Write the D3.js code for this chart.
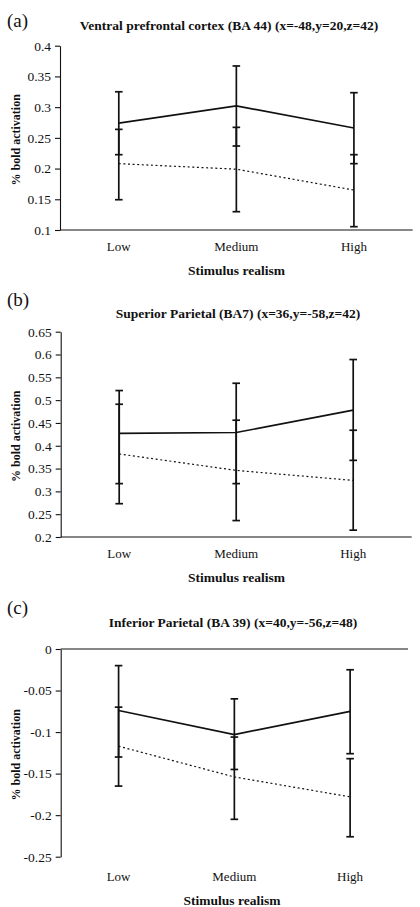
<!DOCTYPE html>
<html>
<head>
<meta charset="utf-8">
<script src="https://cdn.jsdelivr.net/npm/d3@7"></script>
<style>
  html, body { margin: 0; padding: 0; background: #fff; }
  svg { display: block; }
  text { font-family: "Liberation Serif", "Times New Roman", serif; fill: #111; }
</style>
</head>
<body>
<svg id="chart" width="420" height="907"></svg>
<script>
// ---------------- DATA ----------------
const categories = ["Low", "Medium", "High"];

const panelLetters = ["(a)", "(b)", "(c)"];
const panelTitles = [
  "Ventral prefrontal cortex (BA 44) (x=-48,y=20,z=42)",
  "Superior Parietal (BA7) (x=36,y=-58,z=42)",
  "Inferior Parietal (BA 39) (x=40,y=-56,z=48)"
];
const xAxisTitle = "Stimulus realism";
const yAxisTitle = "% bold activation";

// y tick values per panel
const yTicksA = [0.1, 0.15, 0.2, 0.25, 0.3, 0.35, 0.4];
const yTicksB = [0.2, 0.25, 0.3, 0.35, 0.4, 0.45, 0.5, 0.55, 0.6, 0.65];
const yTicksC = [-0.25, -0.2, -0.15, -0.1, -0.05, 0];

// Panel (a)
const solidMeanA = [0.274, 0.302, 0.266];
const solidHiA   = [0.325, 0.367, 0.3235];
const solidLoA   = [0.2226, 0.2367, 0.208];
const dotMeanA   = [0.208, 0.199, 0.165];
const dotHiA     = [0.2638, 0.2671, 0.2226];
const dotLoA     = [0.1493, 0.1298, 0.1054];

// Panel (b)
const solidMeanB = [0.427, 0.429, 0.478];
const solidHiB   = [0.521, 0.537, 0.589];
const solidLoB   = [0.317, 0.317, 0.368];
const dotMeanB   = [0.382, 0.346, 0.324];
const dotHiB     = [0.491, 0.456, 0.434];
const dotLoB     = [0.273, 0.236, 0.215];

// Panel (c)
const solidMeanC = [-0.074, -0.103, -0.075];
const solidHiC   = [-0.020, -0.060, -0.025];
const solidLoC   = [-0.130, -0.145, -0.126];
const dotMeanC   = [-0.117, -0.154, -0.178];
const dotHiC     = [-0.070, -0.106, -0.132];
const dotLoC     = [-0.165, -0.205, -0.226];

// ---------------- LAYOUT ----------------
const panels = [
  {
    letter: panelLetters[0], title: panelTitles[0], ticks: yTicksA,
    domain: [0.1, 0.4], yRange: [230, 45.7], xRange: [60, 412.7],
    xAxisAt: 0.1, letterY: 27, titleX: 229, titleY: 30,
    catY: 251, xTitleY: 275, xTitleX: 236.5,
    series: [
      { mean: solidMeanA, hi: solidHiA, lo: solidLoA, dotted: false },
      { mean: dotMeanA, hi: dotHiA, lo: dotLoA, dotted: true }
    ]
  },
  {
    letter: panelLetters[1], title: panelTitles[1], ticks: yTicksB,
    domain: [0.2, 0.65], yRange: [537, 331.7], xRange: [60.7, 411.7],
    xAxisAt: 0.2, letterY: 306, titleX: 238, titleY: 318,
    catY: 558, xTitleY: 582, xTitleX: 236.5,
    series: [
      { mean: solidMeanB, hi: solidHiB, lo: solidLoB, dotted: false },
      { mean: dotMeanB, hi: dotHiB, lo: dotLoB, dotted: true }
    ]
  },
  {
    letter: panelLetters[2], title: panelTitles[2], ticks: yTicksC,
    domain: [-0.25, 0], yRange: [856.7, 649], xRange: [60.7, 408],
    xAxisAt: 0, letterY: 614, titleX: 233, titleY: 627,
    catY: 881, xTitleY: 905, xTitleX: 232,
    series: [
      { mean: solidMeanC, hi: solidHiC, lo: solidLoC, dotted: false },
      { mean: dotMeanC, hi: dotHiC, lo: dotLoC, dotted: true }
    ]
  }
];

const svg = d3.select("#chart");
svg.append("rect").attr("width", 420).attr("height", 907).attr("fill", "#fff");

panels.forEach(p => {
  const g = svg.append("g");
  const y = d3.scaleLinear().domain(p.domain).range(p.yRange);
  const x = d3.scalePoint().domain(categories).range(p.xRange).padding(0.5);

  // panel letter
  g.append("text").attr("x", 7).attr("y", p.letterY)
    .attr("font-size", 19).text(p.letter);

  // title
  g.append("text").attr("x", p.titleX).attr("y", p.titleY)
    .attr("text-anchor", "middle").attr("font-weight", "bold")
    .attr("font-size", 13.5).text(p.title);

  // y axis
  const yAxis = d3.axisLeft(y).tickValues(p.ticks)
    .tickFormat(d => String(d)).tickSize(5).tickPadding(4).tickSizeOuter(0);
  const ya = g.append("g").attr("transform", `translate(${p.xRange[0]},0)`).call(yAxis);
  ya.select(".domain").attr("stroke", "#111").attr("stroke-width", 1.1);
  ya.selectAll(".tick line").attr("stroke", "#111").attr("stroke-width", 1.1);
  ya.selectAll(".tick text").attr("font-family", "Liberation Serif, serif")
    .attr("font-size", 13.5).attr("fill", "#111");

  // x axis line (category axis crossing at xAxisAt)
  g.append("line")
    .attr("x1", p.xRange[0]).attr("x2", p.xRange[1])
    .attr("y1", y(p.xAxisAt)).attr("y2", y(p.xAxisAt))
    .attr("stroke", "#111").attr("stroke-width", 1.1);

  // category labels (at bottom)
  g.selectAll(".cat").data(categories).enter().append("text")
    .attr("x", d => x(d)).attr("y", p.catY)
    .attr("text-anchor", "middle").attr("font-size", 13).text(d => d);

  // x axis title
  g.append("text").attr("x", p.xTitleX).attr("y", p.xTitleY)
    .attr("text-anchor", "middle").attr("font-weight", "bold")
    .attr("font-size", 13.5).text(xAxisTitle);

  // y axis title
  const yc = (p.yRange[0] + p.yRange[1]) / 2 + 2;
  g.append("text").attr("transform", `translate(19.5,${yc}) rotate(-90)`)
    .attr("text-anchor", "middle").attr("font-weight", "bold")
    .attr("font-size", 12).text(yAxisTitle);

  // error bars
  p.series.forEach(s => {
    const eb = g.append("g");
    categories.forEach((c, i) => {
      const cx = x(c);
      eb.append("line").attr("x1", cx).attr("x2", cx)
        .attr("y1", y(s.lo[i])).attr("y2", y(s.hi[i]))
        .attr("stroke", "#111").attr("stroke-width", 1.7);
      [s.lo[i], s.hi[i]].forEach(v => {
        eb.append("line").attr("x1", cx - 3.8).attr("x2", cx + 3.8)
          .attr("y1", y(v)).attr("y2", y(v))
          .attr("stroke", "#111").attr("stroke-width", 1.7);
      });
    });
  });

  // lines
  p.series.forEach(s => {
    const line = d3.line().x((d, i) => x(categories[i])).y(d => y(d));
    g.append("path").datum(s.mean).attr("d", line)
      .attr("fill", "none").attr("stroke", "#111")
      .attr("stroke-width", s.dotted ? 1.2 : 1.7)
      .attr("stroke-dasharray", s.dotted ? "2,2.6" : null);
  });
});
</script>
</body>
</html>
